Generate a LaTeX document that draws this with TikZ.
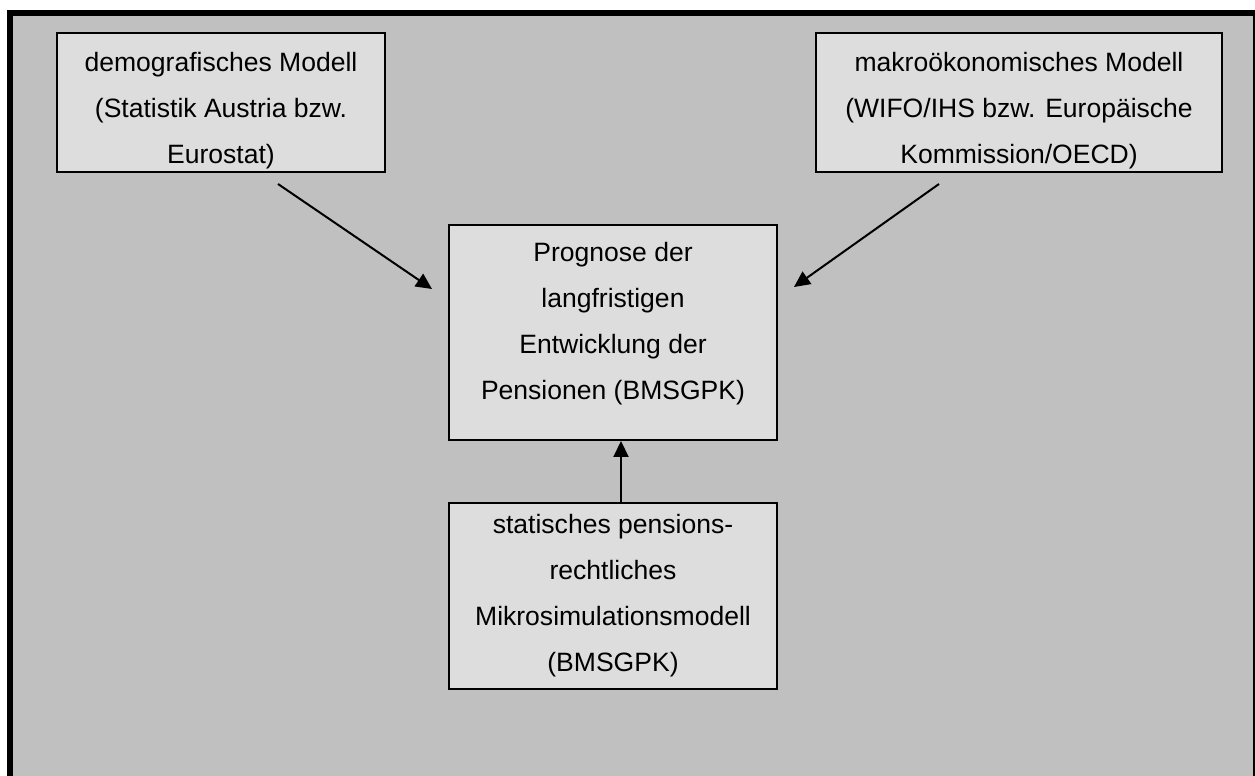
\documentclass[tikz,border=0pt]{standalone}
\usepackage{fontspec}
\setmainfont{Liberation Sans}
\usetikzlibrary{arrows.meta,calc}
\definecolor{bggray}{RGB}{192,192,192}
\definecolor{boxgray}{RGB}{221,221,221}

\begin{document}
\begin{tikzpicture}[x=0.02cm, y=-0.02cm, >={Triangle[length=0.32cm,width=0.3cm]},
    modell/.style={draw, line width=0.04cm, fill=boxgray, inner sep=0pt, align=center,
        font=\fontsize{15.1pt}{26.2pt}\selectfont},
    pfeil/.style={->, line width=0.04cm}]

    %% Background
    \useasboundingbox (0,0) rectangle (1255,775);
    \draw[line width=0.12cm, fill=bggray] (10,13) rectangle (1256,790);

    % Models
    \node[modell, minimum width=6.56cm, minimum height=2.78cm, text height=2.55cm] (demo) at (221,102.5)
        {demografisches Modell\\(Statistik Austria bzw.\\Eurostat)};
    \node[modell, minimum width=8.12cm, minimum height=2.78cm, text height=2.55cm] (makro) at (1019,102.5)
        {makroökonomisches Modell\\(WIFO/IHS bzw. Europäische\\Kommission/OECD)};
    \node[modell, minimum width=6.56cm, minimum height=4.3cm, text depth=0.46cm] (prog) at (613,332.5)
        {Prognose der\\langfristigen\\Entwicklung der\\Pensionen (BMSGPK)};
    \node[modell, minimum width=6.56cm, minimum height=3.72cm] (mikro) at (613,596)
        {statisches pensions-\\rechtliches\\Mikrosimulationsmodell\\(BMSGPK)};

    % Arrows
    \draw[pfeil] ($(demo.south)+(57,11)$) to ($(prog.west)+(-16,-43.5)$);
    \draw[pfeil] ($(makro.south)+(-80,11)$) to ($(prog.east)+(16,-45.5)$);
    \draw[pfeil] ($(mikro.north)+(8,0)$) to ($(prog.south)+(8,0)$);

\end{tikzpicture}
\end{document}
